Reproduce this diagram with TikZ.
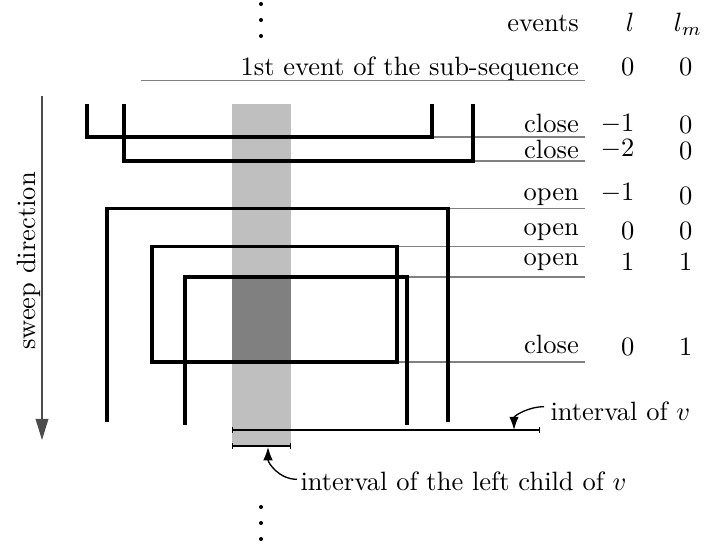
\documentclass[tikz,border=0pt]{standalone}
\usetikzlibrary{arrows.meta}
\begin{document}
\begin{tikzpicture}[x=0.3774pt,y=-0.3774pt,
  seg/.style={line width=1.15pt,black},
  rule/.style={line width=0.6pt,black!50},
  lbl/.style={inner sep=0pt,anchor=base east},
  hdr/.style={inner sep=0pt,anchor=base},
  span/.style={line width=0.45pt,{Bar[width=2.4pt]}-{Bar[width=2.4pt]}},
  note/.style={line width=0.5pt,-{Latex[length=5pt,width=3.6pt]}},
  sweep/.style={line width=0.6pt,black!70,-{Triangle[length=8pt,width=4.8pt]}}]
\useasboundingbox (0,0) rectangle (707,548);

% column of the left child and the part covered by both open intervals
\fill[black!25] (232,104) rectangle (291,446);
\fill[black!50] (232,277) rectangle (291,362);

% event rules
\draw[rule] (141,80.3) -- (585,80.3);
\draw[rule] (432,137) -- (585,137);
\draw[rule] (473,161) -- (585,161);
\draw[rule] (448,208.3) -- (585,208.3);
\draw[rule] (397,246.7) -- (585,246.7);
\draw[rule] (407,277) -- (585,277);
\draw[rule] (397,362) -- (585,362);

% intervals
\draw[seg] (87,104) -- (87,137) -- (432,137) -- (432,104);
\draw[seg] (124,104) -- (124,161) -- (473,161) -- (473,104);
\draw[seg] (107,422) -- (107,208.3) -- (448,208.3) -- (448,422);
\draw[seg] (152,246.7) rectangle (397,362);
\draw[seg] (185,425) -- (185,277) -- (407,277) -- (407,425);

% dots above and below
\foreach \yy in {4,20,36} \fill (261,\yy) circle[radius=2];
\foreach \yy in {507,523,539} \fill (261,\yy) circle[radius=2];

% table header
\node[lbl] (hev) at (579.3,31.7) {events};
\node[hdr] (hl) at (630,31.7) {$l$};
\node[hdr] (hlm) at (688,31.7) {$l_m$};

% event names
\node[lbl] (e0) at (579.3,75) {1st event of the sub-sequence};
\node[lbl] (e1) at (579.3,132.3) {close};
\node[lbl] (e2) at (579.3,158.3) {close};
\node[lbl] (e3) at (579.3,200) {open};
\node[lbl] (e4) at (579.3,235) {open};
\node[lbl] (e5) at (579.3,265) {open};
\node[lbl] (e6) at (579.3,353.3) {close};

% values of l
\node[lbl] (l0) at (635,75) {$0$};
\node[lbl] (l1) at (635,131.7) {$-1$};
\node[lbl] (l2) at (635,156) {$-2$};
\node[lbl] (l3) at (635,200.5) {$-1$};
\node[lbl] (l4) at (635,239.3) {$0$};
\node[lbl] (l5) at (635,270) {$1$};
\node[lbl] (l6) at (635,355) {$0$};

% values of l_m
\node[lbl] (m0) at (693,75) {$0$};
\node[lbl] (m1) at (693,133.3) {$0$};
\node[lbl] (m2) at (693,159) {$0$};
\node[lbl] (m3) at (693,204) {$0$};
\node[lbl] (m4) at (693,239.3) {$0$};
\node[lbl] (m5) at (693,270) {$1$};
\node[lbl] (m6) at (693,355) {$1$};

% sweep direction
\coordinate (sw0) at (42,96);
\coordinate (sw1) at (42,440);
\draw[sweep] (sw0) -- (sw1);
\node[inner sep=0pt,anchor=base,rotate=90] (swl) at (35,261) {sweep direction};

% interval of v and of its left child
\coordinate (iv0) at (232,430);
\coordinate (iv1) at (540,430);
\draw[span] (iv0) -- (iv1);
\coordinate (lc0) at (232,446);
\coordinate (lc1) at (291,446);
\draw[span] (lc0) -- (lc1);

\node[inner sep=0pt,anchor=base west] (ivl) at (550,420) {interval of $v$};
\node[inner sep=0pt,anchor=base west] (lcl) at (300,490) {interval of the left child of $v$};
\coordinate (ivfrom) at (544,406.7);
\coordinate (ivtip) at (514,430);
\draw[note] (ivfrom) .. controls +(-16,0) and +(0,-14) .. (ivtip);
\coordinate (lcfrom) at (297,479.3);
\coordinate (lctip) at (268,447);
\draw[note] (lcfrom) .. controls +(-18,0) and +(0,16) .. (lctip);
\end{tikzpicture}
\end{document}
